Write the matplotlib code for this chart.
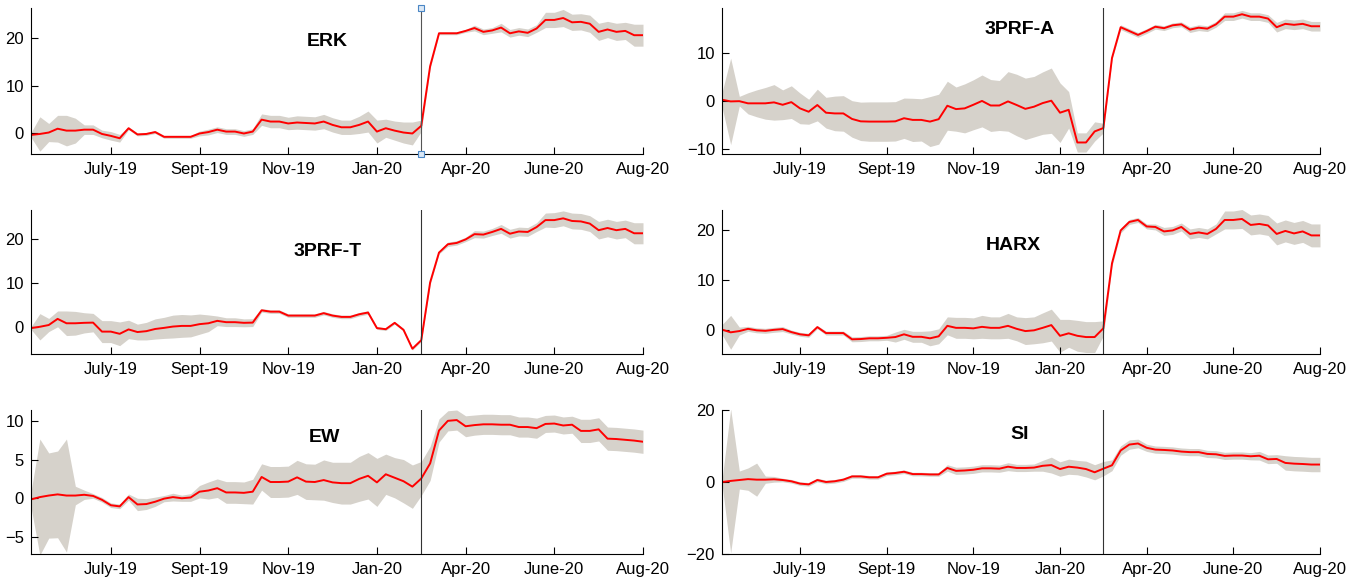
import matplotlib
matplotlib.use('Agg')
import matplotlib.pyplot as plt
import numpy as np

plt.rcParams['font.family'] = ['Liberation Sans Narrow', 'Liberation Sans', 'DejaVu Sans']

# OBSERVATIONS (INDEX 1..70), BREAK AT OBS 45
obs = np.arange(1, 71)
break_obs = 45
tick_pos = [10, 20, 30, 40, 50, 60, 70]
tick_labels = ['July-19', 'Sept-19', 'Nov-19', 'Jan-20', 'Apr-20', 'June-20', 'Aug-20']
tick_labels_a = ['July-19', 'Sept-19', 'Nov-19', 'Jan-19', 'Apr-20', 'June-20', 'Aug-20']

# ERK
erk = [-0.3, -0.1, 0.2, 1.0, 0.6, 0.6, 0.8, 0.8, -0.1, -0.5, -1.0, 1.1, -0.2, -0.1, 0.3,
       -0.7, -0.7, -0.7, -0.7, 0.0, 0.3, 0.8, 0.4, 0.4, 0.0, 0.4, 2.9, 2.5, 2.5, 2.1,
       2.3, 2.2, 2.1, 2.5, 1.8, 1.3, 1.3, 1.8, 2.5, 0.4, 1.1, 0.6, 0.2, 0.0, 1.6,
       14.1, 21.0, 21.0, 21.0, 21.5, 22.1, 21.3, 21.6, 22.2, 21.0, 21.4, 21.1, 22.0, 23.8, 23.8,
       24.2, 23.3, 23.4, 23.0, 21.3, 21.8, 21.3, 21.5, 20.6, 20.6]
erk_band = [0.5, 3.6, 1.9, 2.8, 3.2, 2.6, 1.0, 1.0, 0.8, 0.9, 0.8, 0.3, 0.3, 0.3, 0.3,
            0.3, 0.3, 0.3, 0.3, 0.5, 0.6, 0.6, 0.6, 0.6, 0.6, 0.6, 1.2, 1.3, 1.3, 1.3,
            1.4, 1.4, 1.4, 1.5, 1.5, 1.5, 1.5, 1.8, 2.2, 2.4, 1.9, 2.0, 2.2, 2.4, 1.2,
            0.5, 0.3, 0.3, 0.3, 0.3, 0.6, 0.6, 0.6, 0.9, 0.8, 0.8, 0.8, 0.8, 1.6, 1.6,
            1.8, 1.7, 1.7, 1.8, 1.8, 1.7, 1.8, 1.8, 2.3, 2.3]

# 3PRF-A
prf_a = [0.2, -0.15, -0.1, -0.55, -0.55, -0.55, -0.35, -0.85, -0.3, -1.6, -2.3, -0.9, -2.5, -2.65, -2.65,
         -3.8, -4.3, -4.35, -4.35, -4.35, -4.3, -3.65, -4.0, -4.0, -4.35, -3.85, -1.05, -1.75, -1.6, -0.85,
         -0.05, -1.0, -1.0, -0.15, -0.9, -1.7, -1.25, -0.5, 0.0, -2.5, -1.9, -8.7, -8.7, -6.4, -5.7,
         8.9, 15.3, 14.5, 13.7, 14.5, 15.4, 15.1, 15.7, 15.9, 14.8, 15.2, 15.0, 15.9, 17.5, 17.5,
         18.0, 17.5, 17.5, 17.1, 15.3, 16.0, 15.8, 16.0, 15.5, 15.5]
prf_a_band = [1.5, 9.0, 1.0, 2.2, 2.8, 3.3, 3.7, 3.1, 3.4, 3.2, 2.6, 3.3, 3.2, 3.6, 3.7,
              3.8, 4.0, 4.1, 4.1, 4.1, 4.1, 4.2, 4.5, 4.4, 5.2, 5.2, 5.1, 4.6, 5.1, 5.2,
              5.4, 5.4, 5.2, 6.2, 6.4, 6.4, 6.3, 6.5, 6.8, 6.2, 3.8, 2.0, 2.0, 2.0, 1.0,
              0.3, 0.5, 0.5, 0.5, 0.5, 0.5, 0.5, 0.5, 0.5, 0.6, 0.6, 0.6, 0.6, 0.8, 0.8,
              0.8, 0.8, 0.8, 0.8, 1.0, 1.0, 1.0, 1.0, 1.0, 1.0]

# 3PRF-T
prf_t = [-0.2, 0.1, 0.5, 1.9, 0.9, 0.9, 1.0, 1.05, -1.0, -1.0, -1.5, -0.5, -1.1, -0.9, -0.4,
         -0.15, 0.15, 0.3, 0.3, 0.7, 0.9, 1.45, 1.15, 1.15, 1.0, 1.05, 3.85, 3.55, 3.55, 2.65,
         2.65, 2.65, 2.65, 3.2, 2.65, 2.35, 2.35, 2.95, 3.35, -0.2, -0.45, 1.0, -0.6, -4.9, -2.95,
         10.2, 17.0, 18.9, 19.2, 20.0, 21.2, 21.1, 21.7, 22.4, 21.3, 21.8, 21.7, 22.8, 24.4, 24.4,
         24.8, 24.2, 24.1, 23.6, 22.1, 22.6, 22.1, 22.4, 21.4, 21.4]
prf_t_band = [0.3, 3.0, 1.5, 1.8, 2.8, 2.7, 2.3, 2.1, 2.5, 2.5, 2.7, 2.1, 1.8, 2.0, 2.3,
              2.4, 2.6, 2.6, 2.5, 2.3, 1.9, 1.1, 1.0, 1.0, 0.9, 0.9, 0.4, 0.4, 0.4, 0.4,
              0.4, 0.4, 0.4, 0.4, 0.4, 0.4, 0.4, 0.4, 0.4, 0.3, 0.3, 0.3, 0.3, 0.3, 0.3,
              0.5, 0.3, 0.5, 0.5, 0.5, 0.8, 0.8, 0.8, 1.0, 1.0, 1.0, 1.0, 1.0, 1.6, 1.7,
              1.7, 1.8, 1.8, 1.8, 2.0, 2.0, 2.0, 2.0, 2.4, 2.4]

# HARX
harx = [0.1, -0.45, -0.2, 0.25, -0.05, -0.15, 0.05, 0.2, -0.4, -0.85, -1.05, 0.6, -0.6, -0.6, -0.6,
        -1.85, -1.8, -1.65, -1.65, -1.55, -1.4, -0.85, -1.35, -1.35, -1.65, -1.25, 0.85, 0.45, 0.45, 0.35,
        0.65, 0.45, 0.45, 0.85, 0.25, -0.2, -0.05, 0.45, 1.0, -1.15, -0.65, -1.15, -1.4, -1.4, 0.35,
        13.4, 20.0, 21.7, 22.1, 20.8, 20.7, 19.8, 20.0, 20.7, 19.3, 19.6, 19.3, 20.3, 22.1, 22.1,
        22.3, 21.1, 21.3, 21.0, 19.3, 19.9, 19.4, 19.8, 19.0, 19.0]
harx_band = [1.0, 3.4, 0.8, 0.5, 0.5, 0.5, 0.5, 0.5, 0.4, 0.4, 0.4, 0.3, 0.4, 0.4, 0.4,
             0.5, 0.5, 0.5, 0.5, 0.5, 1.0, 1.0, 1.1, 1.1, 1.5, 1.5, 1.8, 2.1, 2.1, 2.1,
             2.3, 2.2, 2.2, 2.5, 2.4, 2.7, 2.7, 3.0, 3.2, 3.3, 2.8, 3.1, 3.1, 3.1, 1.5,
             0.6, 0.5, 0.5, 0.5, 0.5, 0.6, 0.8, 0.8, 0.8, 1.0, 1.0, 1.0, 1.0, 1.8, 1.8,
             1.9, 2.0, 2.0, 2.0, 2.2, 2.2, 2.2, 2.2, 2.3, 2.3]

# EW
ew = [-0.15, 0.15, 0.35, 0.5, 0.35, 0.35, 0.45, 0.3, -0.2, -0.9, -1.05, 0.15, -0.8, -0.75, -0.45,
      -0.05, 0.15, 0.0, 0.1, 0.85, 1.0, 1.3, 0.75, 0.75, 0.7, 0.85, 2.75, 2.1, 2.1, 2.15,
      2.7, 2.15, 2.1, 2.35, 2.05, 1.95, 1.95, 2.5, 2.9, 2.05, 3.1, 2.65, 2.2, 1.5, 2.55,
      4.5, 8.75, 10.0, 10.1, 9.3, 9.45, 9.55, 9.55, 9.5, 9.5, 9.2, 9.2, 9.05, 9.6, 9.65,
      9.4, 9.5, 8.7, 8.7, 8.9, 7.7, 7.65, 7.55, 7.45, 7.3]
ew_band = [1.0, 7.5, 5.5, 5.6, 7.3, 1.2, 0.6, 0.3, 0.3, 0.3, 0.3, 0.4, 0.8, 0.7, 0.6,
           0.4, 0.5, 0.4, 0.5, 0.8, 1.1, 1.2, 1.4, 1.4, 1.4, 1.6, 1.7, 2.0, 2.0, 2.0,
           2.2, 2.3, 2.3, 2.6, 2.6, 2.7, 2.7, 2.9, 3.0, 3.1, 2.6, 2.6, 2.8, 2.8, 2.2,
           2.2, 1.5, 1.3, 1.3, 1.35, 1.3, 1.3, 1.3, 1.3, 1.3, 1.3, 1.3, 1.3, 1.1, 1.1,
           1.1, 1.1, 1.5, 1.5, 1.5, 1.5, 1.5, 1.5, 1.5, 1.5]

# SI
si = [0.0, 0.3, 0.55, 0.8, 0.65, 0.65, 0.75, 0.55, 0.2, -0.45, -0.65, 0.55, 0.0, 0.2, 0.65,
      1.55, 1.55, 1.3, 1.3, 2.3, 2.5, 2.85, 2.2, 2.2, 2.1, 2.1, 3.9, 3.1, 3.2, 3.4,
      3.8, 3.8, 3.7, 4.25, 3.9, 3.9, 4.0, 4.5, 4.7, 3.6, 4.25, 4.0, 3.6, 2.7, 3.7,
      4.65, 8.75, 10.4, 10.7, 9.5, 9.0, 8.9, 8.75, 8.45, 8.3, 8.3, 7.8, 7.7, 7.25, 7.35,
      7.35, 7.15, 7.3, 6.3, 6.4, 5.3, 5.1, 5.0, 4.85, 4.85]
si_band = [0.5, 20.0, 2.5, 3.1, 4.6, 1.0, 0.8, 0.5, 0.5, 0.5, 0.5, 0.5, 0.5, 0.5, 0.5,
           0.5, 0.5, 0.5, 0.5, 0.5, 0.5, 0.5, 0.5, 0.5, 0.5, 0.5, 0.9, 1.0, 1.0, 1.0,
           1.0, 1.0, 1.0, 1.1, 1.0, 1.0, 1.0, 1.5, 2.2, 2.0, 2.1, 2.0, 2.2, 2.1, 2.0,
           1.5, 1.3, 1.3, 1.2, 1.0, 1.0, 1.0, 1.0, 1.0, 1.0, 1.0, 1.0, 1.0, 1.0, 1.0,
           1.0, 1.0, 1.2, 1.2, 1.2, 2.0, 2.0, 2.0, 2.0, 2.0]

# PANELS: name, series, band, ylim, yticks, xtick labels, title position, axes rect
panels = [
    ('ERK', erk, erk_band, (-4.3, 26.3), [0, 10, 20], tick_labels, (0.484, 0.77),
     [31 / 1350, 1 - 154 / 585, 612 / 1350, 146 / 585]),
    ('3PRF-A', prf_a, prf_a_band, (-11.1, 19.3), [-10, 0, 10], tick_labels_a, (0.497, 0.85),
     [722 / 1350, 1 - 154 / 585, 598 / 1350, 146 / 585]),
    ('3PRF-T', prf_t, prf_t_band, (-6.1, 26.7), [0, 10, 20], tick_labels, (0.484, 0.71),
     [31 / 1350, 1 - 354 / 585, 612 / 1350, 144 / 585]),
    ('HARX', harx, harx_band, (-4.8, 24.1), [0, 10, 20], tick_labels, (0.487, 0.75),
     [722 / 1350, 1 - 354 / 585, 598 / 1350, 144 / 585]),
    ('EW', ew, ew_band, (-7.2, 11.4), [-5, 0, 5, 10], tick_labels, (0.48, 0.81),
     [31 / 1350, 1 - 554 / 585, 612 / 1350, 144 / 585]),
    ('SI', si, si_band, (-20, 20), [-20, 0, 20], tick_labels, (0.497, 0.83),
     [722 / 1350, 1 - 554 / 585, 598 / 1350, 144 / 585]),
]

fig = plt.figure(figsize=(13.5, 5.85), dpi=100)

for name, y, band, ylim, yticks, xlabels, tpos, rect in panels:
    ax = fig.add_axes(rect)
    y = np.array(y)
    band = np.array(band)
    ax.fill_between(obs, y - band, y + band, color='#d6d2cb', linewidth=0)
    ax.plot(obs, y, color='red', linewidth=1.4)
    ax.set_xlim(1, 70)
    ax.set_ylim(*ylim)
    if name == 'ERK':
        # selected line in the original figure, with its end handles
        ax.plot([break_obs, break_obs], ylim, color='#555555', linewidth=0.8,
                marker='s', markersize=4, markerfacecolor='#dbe8f5',
                markeredgecolor='#4a86c5', markeredgewidth=0.8, clip_on=False, zorder=5)
    else:
        ax.axvline(break_obs, color='#333333', linewidth=0.8)
    ax.set_xticks(tick_pos)
    ax.set_xticklabels(xlabels)
    ax.set_yticks(yticks)
    ax.spines['top'].set_visible(False)
    ax.spines['right'].set_visible(False)
    ax.spines['left'].set_linewidth(0.8)
    ax.spines['bottom'].set_linewidth(0.8)
    ax.tick_params(direction='in', length=5, width=0.8, labelsize=12, colors='black')
    ax.tick_params(axis='x', pad=6)
    ax.tick_params(axis='y', pad=5)
    ax.text(tpos[0], tpos[1], name, transform=ax.transAxes, ha='center', va='center',
            fontsize=14, fontweight='bold')

fig.savefig('out.png', dpi=100)
